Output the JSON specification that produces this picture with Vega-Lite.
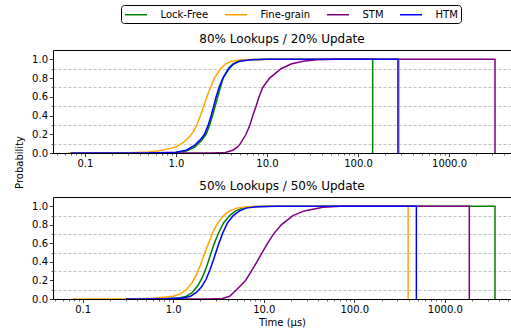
{
  "$schema": "https://vega.github.io/schema/vega-lite/v6.json",
  "autosize": {"type": "pad"},
  "padding": {"left": 13, "top": 4, "right": 0, "bottom": 0},
  "background": "white",
  "config": {
    "font": "DejaVu Sans",
    "view": {"stroke": "black", "strokeWidth": 1},
    "axis": {"domain": false, "labelFont": "DejaVu Sans", "labelFontSize": 10, "labelColor": "black", "tickColor": "black", "tickSize": 3.5, "tickWidth": 0.8, "gridColor": "#b0b0b0", "gridWidth": 0.8, "labelPadding": 2, "titleFont": "DejaVu Sans", "titleFontSize": 10, "titleFontWeight": "normal", "titleColor": "black"},
    "title": {"font": "DejaVu Sans", "fontSize": 12, "fontWeight": "normal", "color": "black", "offset": 4},
    "legend": {"labelFont": "DejaVu Sans", "labelFontSize": 10, "labelColor": "black"}
  },
  "datasets": {
    "a": [
      {"s": "Lock-Free", "i": 1, "t": 0.1, "p": 0},
      {"s": "Lock-Free", "i": 2, "t": 0.5, "p": 0},
      {"s": "Lock-Free", "i": 3, "t": 1.0, "p": 0.005},
      {"s": "Lock-Free", "i": 4, "t": 1.3, "p": 0.02},
      {"s": "Lock-Free", "i": 5, "t": 1.6, "p": 0.06},
      {"s": "Lock-Free", "i": 6, "t": 1.9, "p": 0.13},
      {"s": "Lock-Free", "i": 7, "t": 2.15, "p": 0.2},
      {"s": "Lock-Free", "i": 8, "t": 2.35, "p": 0.3},
      {"s": "Lock-Free", "i": 9, "t": 2.53, "p": 0.4},
      {"s": "Lock-Free", "i": 10, "t": 2.7, "p": 0.5},
      {"s": "Lock-Free", "i": 11, "t": 2.88, "p": 0.6},
      {"s": "Lock-Free", "i": 12, "t": 3.08, "p": 0.7},
      {"s": "Lock-Free", "i": 13, "t": 3.31, "p": 0.8},
      {"s": "Lock-Free", "i": 14, "t": 3.75, "p": 0.9},
      {"s": "Lock-Free", "i": 15, "t": 4.2, "p": 0.95},
      {"s": "Lock-Free", "i": 16, "t": 5.0, "p": 0.985},
      {"s": "Lock-Free", "i": 17, "t": 6.5, "p": 0.997},
      {"s": "Lock-Free", "i": 18, "t": 10, "p": 1.0},
      {"s": "Lock-Free", "i": 19, "t": 145, "p": 1.0},
      {"s": "Lock-Free", "i": 20, "t": 145, "p": 0},
      {"s": "Fine-grain", "i": 1, "t": 0.065, "p": 0},
      {"s": "Fine-grain", "i": 2, "t": 0.3, "p": 0.002},
      {"s": "Fine-grain", "i": 3, "t": 0.5, "p": 0.01},
      {"s": "Fine-grain", "i": 4, "t": 0.7, "p": 0.028},
      {"s": "Fine-grain", "i": 5, "t": 1.0, "p": 0.065},
      {"s": "Fine-grain", "i": 6, "t": 1.2, "p": 0.11},
      {"s": "Fine-grain", "i": 7, "t": 1.4, "p": 0.17},
      {"s": "Fine-grain", "i": 8, "t": 1.54, "p": 0.22},
      {"s": "Fine-grain", "i": 9, "t": 1.7, "p": 0.3},
      {"s": "Fine-grain", "i": 10, "t": 1.86, "p": 0.4},
      {"s": "Fine-grain", "i": 11, "t": 2.02, "p": 0.5},
      {"s": "Fine-grain", "i": 12, "t": 2.19, "p": 0.6},
      {"s": "Fine-grain", "i": 13, "t": 2.4, "p": 0.7},
      {"s": "Fine-grain", "i": 14, "t": 2.65, "p": 0.8},
      {"s": "Fine-grain", "i": 15, "t": 3.09, "p": 0.9},
      {"s": "Fine-grain", "i": 16, "t": 3.5, "p": 0.95},
      {"s": "Fine-grain", "i": 17, "t": 4.0, "p": 0.978},
      {"s": "Fine-grain", "i": 18, "t": 5.0, "p": 0.994},
      {"s": "Fine-grain", "i": 19, "t": 7.0, "p": 0.999},
      {"s": "Fine-grain", "i": 20, "t": 15, "p": 1.0},
      {"s": "Fine-grain", "i": 21, "t": 283, "p": 1.0},
      {"s": "Fine-grain", "i": 22, "t": 283, "p": 0},
      {"s": "STM", "i": 1, "t": 0.5, "p": 0},
      {"s": "STM", "i": 2, "t": 2.5, "p": 0},
      {"s": "STM", "i": 3, "t": 3.5, "p": 0.005},
      {"s": "STM", "i": 4, "t": 4.2, "p": 0.03},
      {"s": "STM", "i": 5, "t": 4.7, "p": 0.06},
      {"s": "STM", "i": 6, "t": 5.1, "p": 0.1},
      {"s": "STM", "i": 7, "t": 5.9, "p": 0.2},
      {"s": "STM", "i": 8, "t": 6.5, "p": 0.3},
      {"s": "STM", "i": 9, "t": 7.0, "p": 0.4},
      {"s": "STM", "i": 10, "t": 7.6, "p": 0.5},
      {"s": "STM", "i": 11, "t": 8.2, "p": 0.6},
      {"s": "STM", "i": 12, "t": 9.0, "p": 0.7},
      {"s": "STM", "i": 13, "t": 10.7, "p": 0.8},
      {"s": "STM", "i": 14, "t": 14.3, "p": 0.9},
      {"s": "STM", "i": 15, "t": 18.4, "p": 0.95},
      {"s": "STM", "i": 16, "t": 25, "p": 0.98},
      {"s": "STM", "i": 17, "t": 35, "p": 0.995},
      {"s": "STM", "i": 18, "t": 55, "p": 1.0},
      {"s": "STM", "i": 19, "t": 3199, "p": 1.0},
      {"s": "STM", "i": 20, "t": 3199, "p": 0},
      {"s": "HTM", "i": 1, "t": 0.07, "p": 0},
      {"s": "HTM", "i": 2, "t": 0.5, "p": 0},
      {"s": "HTM", "i": 3, "t": 1.0, "p": 0.008},
      {"s": "HTM", "i": 4, "t": 1.3, "p": 0.03},
      {"s": "HTM", "i": 5, "t": 1.6, "p": 0.08},
      {"s": "HTM", "i": 6, "t": 1.85, "p": 0.14},
      {"s": "HTM", "i": 7, "t": 2.06, "p": 0.2},
      {"s": "HTM", "i": 8, "t": 2.27, "p": 0.3},
      {"s": "HTM", "i": 9, "t": 2.44, "p": 0.4},
      {"s": "HTM", "i": 10, "t": 2.6, "p": 0.5},
      {"s": "HTM", "i": 11, "t": 2.77, "p": 0.6},
      {"s": "HTM", "i": 12, "t": 2.98, "p": 0.7},
      {"s": "HTM", "i": 13, "t": 3.28, "p": 0.8},
      {"s": "HTM", "i": 14, "t": 3.82, "p": 0.9},
      {"s": "HTM", "i": 15, "t": 4.3, "p": 0.95},
      {"s": "HTM", "i": 16, "t": 5.0, "p": 0.98},
      {"s": "HTM", "i": 17, "t": 6.7, "p": 0.997},
      {"s": "HTM", "i": 18, "t": 10, "p": 1.0},
      {"s": "HTM", "i": 19, "t": 275, "p": 1.0},
      {"s": "HTM", "i": 20, "t": 275, "p": 0}
    ],
    "b": [
      {"s": "Lock-Free", "i": 1, "t": 0.3, "p": 0},
      {"s": "Lock-Free", "i": 2, "t": 0.8, "p": 0.003},
      {"s": "Lock-Free", "i": 3, "t": 1.16, "p": 0.012},
      {"s": "Lock-Free", "i": 4, "t": 1.4, "p": 0.03},
      {"s": "Lock-Free", "i": 5, "t": 1.62, "p": 0.07},
      {"s": "Lock-Free", "i": 6, "t": 1.86, "p": 0.14},
      {"s": "Lock-Free", "i": 7, "t": 2.09, "p": 0.23},
      {"s": "Lock-Free", "i": 8, "t": 2.32, "p": 0.34},
      {"s": "Lock-Free", "i": 9, "t": 2.55, "p": 0.46},
      {"s": "Lock-Free", "i": 10, "t": 2.84, "p": 0.6},
      {"s": "Lock-Free", "i": 11, "t": 3.19, "p": 0.72},
      {"s": "Lock-Free", "i": 12, "t": 3.6, "p": 0.82},
      {"s": "Lock-Free", "i": 13, "t": 4.2, "p": 0.9},
      {"s": "Lock-Free", "i": 14, "t": 4.9, "p": 0.95},
      {"s": "Lock-Free", "i": 15, "t": 5.8, "p": 0.98},
      {"s": "Lock-Free", "i": 16, "t": 7.5, "p": 0.995},
      {"s": "Lock-Free", "i": 17, "t": 12, "p": 1.0},
      {"s": "Lock-Free", "i": 18, "t": 3581, "p": 1.0},
      {"s": "Lock-Free", "i": 19, "t": 3581, "p": 0},
      {"s": "Fine-grain", "i": 1, "t": 0.078, "p": 0},
      {"s": "Fine-grain", "i": 2, "t": 0.3, "p": 0.001},
      {"s": "Fine-grain", "i": 3, "t": 0.6, "p": 0.008},
      {"s": "Fine-grain", "i": 4, "t": 1.0, "p": 0.03},
      {"s": "Fine-grain", "i": 5, "t": 1.2, "p": 0.055},
      {"s": "Fine-grain", "i": 6, "t": 1.4, "p": 0.1},
      {"s": "Fine-grain", "i": 7, "t": 1.6, "p": 0.17},
      {"s": "Fine-grain", "i": 8, "t": 1.8, "p": 0.26},
      {"s": "Fine-grain", "i": 9, "t": 2.0, "p": 0.37},
      {"s": "Fine-grain", "i": 10, "t": 2.2, "p": 0.48},
      {"s": "Fine-grain", "i": 11, "t": 2.45, "p": 0.6},
      {"s": "Fine-grain", "i": 12, "t": 2.75, "p": 0.72},
      {"s": "Fine-grain", "i": 13, "t": 3.1, "p": 0.82},
      {"s": "Fine-grain", "i": 14, "t": 3.6, "p": 0.9},
      {"s": "Fine-grain", "i": 15, "t": 4.2, "p": 0.95},
      {"s": "Fine-grain", "i": 16, "t": 5.0, "p": 0.98},
      {"s": "Fine-grain", "i": 17, "t": 6.5, "p": 0.995},
      {"s": "Fine-grain", "i": 18, "t": 10, "p": 1.0},
      {"s": "Fine-grain", "i": 19, "t": 393, "p": 1.0},
      {"s": "Fine-grain", "i": 20, "t": 393, "p": 0},
      {"s": "STM", "i": 1, "t": 0.5, "p": 0},
      {"s": "STM", "i": 2, "t": 2.5, "p": 0},
      {"s": "STM", "i": 3, "t": 3.5, "p": 0.005},
      {"s": "STM", "i": 4, "t": 4.2, "p": 0.03},
      {"s": "STM", "i": 5, "t": 5.0, "p": 0.1},
      {"s": "STM", "i": 6, "t": 6.3, "p": 0.2},
      {"s": "STM", "i": 7, "t": 7.3, "p": 0.3},
      {"s": "STM", "i": 8, "t": 8.4, "p": 0.4},
      {"s": "STM", "i": 9, "t": 9.6, "p": 0.5},
      {"s": "STM", "i": 10, "t": 11, "p": 0.6},
      {"s": "STM", "i": 11, "t": 12.8, "p": 0.7},
      {"s": "STM", "i": 12, "t": 15.6, "p": 0.8},
      {"s": "STM", "i": 13, "t": 21, "p": 0.9},
      {"s": "STM", "i": 14, "t": 28, "p": 0.95},
      {"s": "STM", "i": 15, "t": 45, "p": 0.99},
      {"s": "STM", "i": 16, "t": 70, "p": 1.0},
      {"s": "STM", "i": 17, "t": 1863, "p": 1.0},
      {"s": "STM", "i": 18, "t": 1863, "p": 0},
      {"s": "HTM", "i": 1, "t": 0.3, "p": 0},
      {"s": "HTM", "i": 2, "t": 0.8, "p": 0.002},
      {"s": "HTM", "i": 3, "t": 1.28, "p": 0.01},
      {"s": "HTM", "i": 4, "t": 1.55, "p": 0.03},
      {"s": "HTM", "i": 5, "t": 1.8, "p": 0.07},
      {"s": "HTM", "i": 6, "t": 2.05, "p": 0.13},
      {"s": "HTM", "i": 7, "t": 2.3, "p": 0.21},
      {"s": "HTM", "i": 8, "t": 2.56, "p": 0.32},
      {"s": "HTM", "i": 9, "t": 2.82, "p": 0.44},
      {"s": "HTM", "i": 10, "t": 3.14, "p": 0.58},
      {"s": "HTM", "i": 11, "t": 3.52, "p": 0.71},
      {"s": "HTM", "i": 12, "t": 3.97, "p": 0.82},
      {"s": "HTM", "i": 13, "t": 4.6, "p": 0.9},
      {"s": "HTM", "i": 14, "t": 5.4, "p": 0.95},
      {"s": "HTM", "i": 15, "t": 6.4, "p": 0.98},
      {"s": "HTM", "i": 16, "t": 8.3, "p": 0.995},
      {"s": "HTM", "i": 17, "t": 14, "p": 1.0},
      {"s": "HTM", "i": 18, "t": 485, "p": 1.0},
      {"s": "HTM", "i": 19, "t": 485, "p": 0}
    ]
  },
  "vconcat": [
    {
      "title": {"text": "80% Lookups / 20% Update"},
      "width": 458,
      "height": 103,
      "data": {"name": "a"},
      "layer": [
        {
          "mark": {"type": "line", "opacity": 0},
          "encoding": {
            "x": {"field": "t", "type": "quantitative", "scale": {"type": "log", "domain": [0.0447, 4795], "nice": false}, "axis": {"orient": "bottom", "values": [0.05, 0.06, 0.07, 0.08, 0.09, 0.2, 0.3, 0.4, 0.5, 0.6, 0.7, 0.8, 0.9, 2, 3, 4, 5, 6, 7, 8, 9, 20, 30, 40, 50, 60, 70, 80, 90, 200, 300, 400, 500, 600, 700, 800, 900, 2000, 3000, 4000], "labels": false, "grid": false, "tickSize": 2, "tickWidth": 0.6, "title": null}},
            "y": {"field": "p", "type": "quantitative", "scale": {"domain": [0, 1.1], "nice": false}, "axis": {"orient": "left", "values": [0.1, 0.3, 0.5, 0.7, 0.9], "labels": false, "tickSize": 2, "tickWidth": 0.6, "grid": true, "gridDash": [3, 2], "title": null}}
          }
        },
        {
          "mark": {"type": "line", "strokeWidth": 1.5, "clip": true},
          "encoding": {
            "x": {"field": "t", "type": "quantitative", "scale": {"type": "log", "domain": [0.0447, 4795], "nice": false}, "axis": {"orient": "bottom", "values": [0.1, 1, 10, 100, 1000], "format": ".1f", "title": null}},
            "y": {"field": "p", "type": "quantitative", "scale": {"domain": [0, 1.1], "nice": false}, "axis": {"orient": "left", "values": [0, 0.2, 0.4, 0.6, 0.8, 1.0], "format": ".1f", "title": "Probability", "titleAngle": -90, "titleX": -31, "titleY": 112, "titleAlign": "center", "titleBaseline": "alphabetic"}},
            "color": {"field": "s", "type": "nominal", "scale": {"domain": ["Lock-Free", "Fine-grain", "STM", "HTM"], "range": ["green", "orange", "purple", "blue"]}, "legend": {"title": null, "orient": "none", "legendX": 68, "legendY": -45, "direction": "horizontal", "columns": 4, "symbolType": "M-2,0H2", "symbolSize": 121, "symbolOffset": 5.5, "symbolStrokeWidth": 1.5, "labelOffset": 18, "columnPadding": 13, "padding": 3, "strokeColor": "black", "fillColor": "white", "cornerRadius": 3}},
            "order": {"field": "i", "type": "quantitative"}
          }
        }
      ],
      "resolve": {"axis": {"x": "independent", "y": "independent"}}
    },
    {
      "title": {"text": "50% Lookups / 50% Update"},
      "width": 458,
      "height": 102,
      "data": {"name": "b"},
      "layer": [
        {
          "mark": {"type": "line", "opacity": 0},
          "encoding": {
            "x": {"field": "t", "type": "quantitative", "scale": {"type": "log", "domain": [0.047, 5380], "nice": false}, "axis": {"orient": "bottom", "values": [0.05, 0.06, 0.07, 0.08, 0.09, 0.2, 0.3, 0.4, 0.5, 0.6, 0.7, 0.8, 0.9, 2, 3, 4, 5, 6, 7, 8, 9, 20, 30, 40, 50, 60, 70, 80, 90, 200, 300, 400, 500, 600, 700, 800, 900, 2000, 3000, 4000, 5000], "labels": false, "grid": false, "tickSize": 2, "tickWidth": 0.6, "title": null}},
            "y": {"field": "p", "type": "quantitative", "scale": {"domain": [0, 1.1], "nice": false}, "axis": {"orient": "left", "values": [0.1, 0.3, 0.5, 0.7, 0.9], "labels": false, "tickSize": 2, "tickWidth": 0.6, "grid": true, "gridDash": [3, 2], "title": null}}
          }
        },
        {
          "mark": {"type": "line", "strokeWidth": 1.5, "clip": true},
          "encoding": {
            "x": {"field": "t", "type": "quantitative", "scale": {"type": "log", "domain": [0.047, 5380], "nice": false}, "axis": {"orient": "bottom", "values": [0.1, 1, 10, 100, 1000], "format": ".1f", "title": "Time (μs)", "titlePadding": 3}},
            "y": {"field": "p", "type": "quantitative", "scale": {"domain": [0, 1.1], "nice": false}, "axis": {"orient": "left", "values": [0, 0.2, 0.4, 0.6, 0.8, 1.0], "format": ".1f", "title": null}},
            "color": {"field": "s", "type": "nominal", "scale": {"domain": ["Lock-Free", "Fine-grain", "STM", "HTM"], "range": ["green", "orange", "purple", "blue"]}},
            "order": {"field": "i", "type": "quantitative"}
          }
        }
      ],
      "resolve": {"axis": {"x": "independent", "y": "independent"}}
    }
  ],
  "bounds": "flush",
  "spacing": 44,
  "resolve": {"scale": {"x": "independent", "y": "independent", "color": "shared"}}
}
